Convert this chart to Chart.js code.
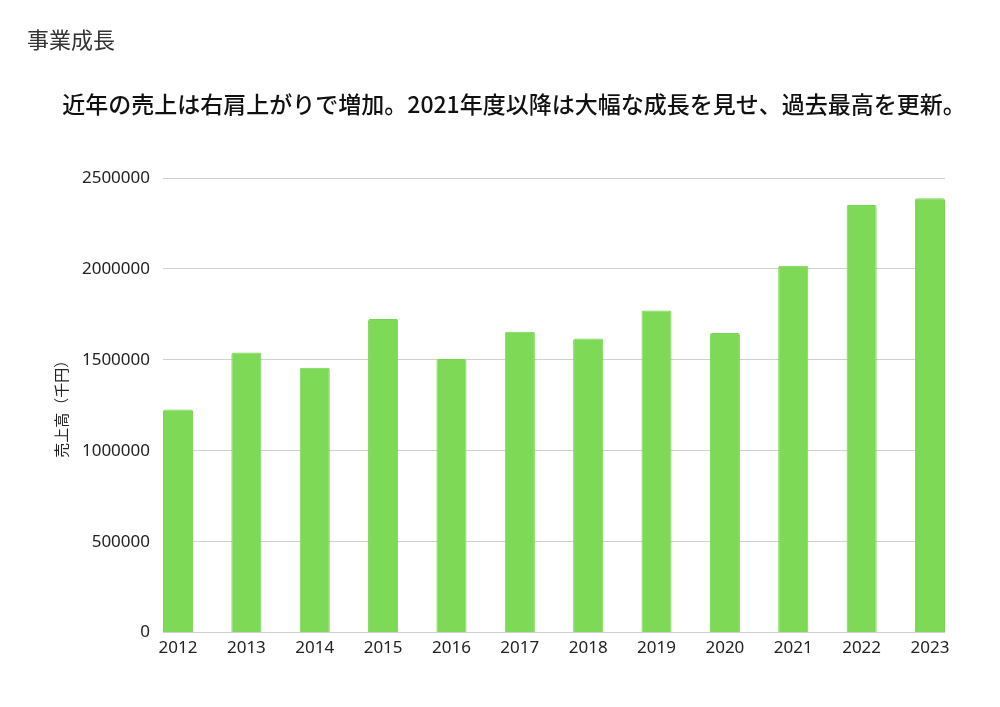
<!DOCTYPE html>
<html lang="ja">
<head>
<meta charset="utf-8">
<title>事業成長</title>
<script src="https://cdn.jsdelivr.net/npm/chart.js@4"></script>
<style>
  html, body { margin: 0; padding: 0; background: #fff; }
  #wrap { width: 1000px; height: 707px; }
</style>
</head>
<body>
<div id="wrap"><canvas id="salesChart" width="1000" height="707"></canvas></div>
<script>
const years = [2012, 2013, 2014, 2015, 2016, 2017, 2018, 2019, 2020, 2021, 2022, 2023];
const sales = [1227000, 1540000, 1456000, 1725000, 1504000, 1655000, 1617000, 1771000, 1647000, 2018000, 2352000, 2388000];
const yTicks = [0, 500000, 1000000, 1500000, 2000000, 2500000];

const chartTitle = "事業成長";
const chartSubtitle = "近年の売上は右肩上がりで増加。2021年度以降は大幅な成長を見せ、過去最高を更新。";
const yTitle = "売上高（千円）";

const font = "'Noto Sans', 'Noto Sans CJK JP', sans-serif";
const cjkFont = "'Noto Sans CJK JP', 'Noto Sans', sans-serif";

// the subtitle sits a bit right of the canvas centre in the original
const shiftSubtitle = {
    id: "shiftSubtitle",
    afterLayout(chart) {
        chart.boxes.forEach(box => {
            if (box.options && box.options.text === chartSubtitle) {
                box.left += 28;
                box.right += 28;
            }
        });
    }
};

const ctx = document.getElementById("salesChart").getContext("2d");
const chart = new Chart(ctx, {
    type: "bar",
    data: {
        datasets: [{
            label: "売上高",
            data: years.map((y, i) => ({ x: y, y: sales[i] })),
            backgroundColor: "#7ed957",
            borderColor: "#76d450",
            borderWidth: 1,
            borderRadius: 2,
            borderSkipped: "bottom",
            categoryPercentage: 1,
            barPercentage: 0.44
        }]
    },
    options: {
        responsive: false,
        animation: false,
        layout: { padding: { left: 27, right: 55, top: 0, bottom: 44 } },
        plugins: {
            legend: { display: false },
            tooltip: { enabled: false },
            title: {
                display: true,
                text: chartTitle,
                align: "start",
                color: "#333",
                font: { family: cjkFont, size: 22, weight: "normal" },
                padding: { top: 26, bottom: 17 }
            },
            subtitle: {
                display: true,
                text: chartSubtitle,
                color: "#111",
                font: { family: cjkFont, size: 23, weight: "500" },
                padding: { top: 21, bottom: 60 }
            }
        },
        scales: {
            x: {
                type: "linear",
                min: 2011.78,
                max: 2023.22,
                offset: false,
                afterBuildTicks: axis => { axis.ticks = years.map(v => ({ value: v })); },
                grid: { display: false, drawTicks: false },
                border: { display: false },
                ticks: {
                    color: "#222",
                    font: { family: font, size: 17 },
                    padding: 5,
                    callback: v => String(v)
                }
            },
            y: {
                min: 0,
                max: 2500000,
                afterBuildTicks: axis => { axis.ticks = yTicks.map(v => ({ value: v })); },
                afterFit: axis => { axis.width = 136; },
                grid: { color: "#d0d0d0", lineWidth: 1, drawTicks: false },
                border: { display: false },
                ticks: {
                    color: "#222",
                    font: { family: font, size: 17 },
                    padding: 13,
                    callback: v => String(v)
                },
                title: {
                    display: true,
                    text: yTitle,
                    color: "#222",
                    font: { family: cjkFont, size: 15 },
                    padding: { top: 25, bottom: 0 }
                }
            }
        }
    },
    plugins: [shiftSubtitle]
});
</script>
</body>
</html>
